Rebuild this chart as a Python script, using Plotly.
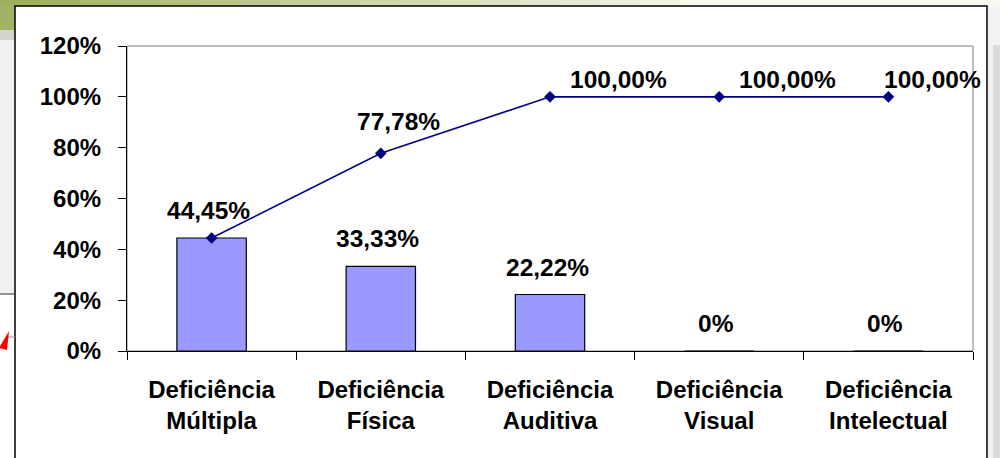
import plotly.graph_objects as go

categories = ["Deficiência<br>Múltipla", "Deficiência<br>Física", "Deficiência<br>Auditiva",
              "Deficiência<br>Visual", "Deficiência<br>Intelectual"]
bar_values = [0.4445, 0.3333, 0.2222, 0.0, 0.0]
cumulative = [0.4445, 0.7778, 1.0, 1.0, 1.0]
bar_labels = ["44,45%", "33,33%", "22,22%", "0%", "0%"]
line_labels = ["", "77,78%", "100,00%", "100,00%", "100,00%"]
y_ticks = [0, 0.2, 0.4, 0.6, 0.8, 1.0, 1.2]
y_tick_text = ["0%", "20%", "40%", "60%", "80%", "100%", "120%"]

FONT = "Liberation Sans, Arial, sans-serif"
LABEL_FONT = dict(family=FONT, size=24.5, color="black", weight="bold")
TICK_FONT = dict(family=FONT, size=24, color="black", weight="bold")

fig = go.Figure()
fig.add_trace(go.Bar(
    x=categories, y=bar_values, width=0.41,
    marker=dict(color="#9999FF", line=dict(color="black", width=1.2)),
    hoverinfo="skip",
))
fig.add_trace(go.Scatter(
    x=categories, y=cumulative, mode="lines+markers",
    line=dict(color="#000080", width=1.6),
    marker=dict(symbol="diamond", size=9, color="#000080"),
    hoverinfo="skip",
))

# data labels
for c, v, t in zip(categories, bar_values, bar_labels):
    fig.add_annotation(x=c, y=v, text=t, showarrow=False, xanchor="center", yanchor="bottom",
                       yshift=12, xshift=-3, font=LABEL_FONT)
line_shift = [(0, 0, "center"), (18, 16, "center"), (18, 2, "left"), (18, 2, "left"), (-6, 2, "left")]
for c, v, t, (xs, ys, xa) in zip(categories, cumulative, line_labels, line_shift):
    if t:
        fig.add_annotation(x=c, y=v, text=t, showarrow=False, xanchor=xa, yanchor="bottom",
                           xshift=xs, yshift=ys, font=LABEL_FONT)

# ---- background decoration (slide behind the chart) ----
def px_x(p):
    return (p - 127) / 846.0

def px_y(p):
    return (351 - p) / 305.0

shapes = []
# top green gradient band
n = 25
for i in range(n):
    f = i / (n - 1)
    r = int(158 + (248 - 158) * min(1, f * 1.4))
    g = int(176 + (248 - 176) * min(1, f * 1.4))
    b = int(92 + (240 - 92) * min(1, f * 1.4))
    shapes.append(dict(type="rect", xref="paper", yref="paper", layer="below",
                       x0=px_x(i * 1000 / n), x1=px_x((i + 1) * 1000 / n + 1),
                       y0=px_y(7), y1=px_y(-2), line=dict(width=0), fillcolor=f"rgb({r},{g},{b})"))
# left strip
shapes.append(dict(type="rect", xref="paper", yref="paper", layer="below",
                   x0=px_x(-2), x1=px_x(15), y0=px_y(30), y1=px_y(6), line=dict(width=0),
                   fillcolor="#a2b266"))
shapes.append(dict(type="rect", xref="paper", yref="paper", layer="below",
                   x0=px_x(-2), x1=px_x(15), y0=px_y(40), y1=px_y(30), line=dict(width=0),
                   fillcolor="#d2d4d0"))
shapes.append(dict(type="rect", xref="paper", yref="paper", layer="below",
                   x0=px_x(-2), x1=px_x(15), y0=px_y(294), y1=px_y(40), line=dict(width=0),
                   fillcolor="#f0f0ef"))
shapes.append(dict(type="line", xref="paper", yref="paper", x0=px_x(-2), x1=px_x(15),
                   y0=px_y(294), y1=px_y(294), line=dict(color="#333333", width=1)))
shapes.append(dict(type="line", xref="paper", yref="paper", x0=px_x(6), x1=px_x(15),
                   y0=px_y(337), y1=px_y(337), line=dict(color="#999999", width=1)))
shapes.append(dict(type="path", xref="paper", yref="paper", layer="above",
                   path=f"M {px_x(-1)},{px_y(348)} L {px_x(9)},{px_y(331)} L {px_x(7)},{px_y(350)} Z",
                   line=dict(width=0), fillcolor="#ff0000"))
# right strip
shapes.append(dict(type="rect", xref="paper", yref="paper", layer="below",
                   x0=px_x(988), x1=px_x(1002), y0=px_y(460), y1=px_y(7), line=dict(width=0),
                   fillcolor="#f2f2f2"))
shapes.append(dict(type="rect", xref="paper", yref="paper", layer="below",
                   x0=px_x(993), x1=px_x(1002), y0=px_y(460), y1=px_y(45), line=dict(width=0),
                   fillcolor="#dcdcdc"))
# outer chart frame
shapes.append(dict(type="rect", xref="paper", yref="paper", layer="below",
                   x0=px_x(15), x1=px_x(987), y0=px_y(470), y1=px_y(6),
                   line=dict(color="black", width=1.5), fillcolor="white"))
# plot area border
shapes.append(dict(type="rect", xref="paper", yref="paper", layer="below",
                   x0=0, x1=1, y0=0, y1=1, line=dict(color="#808080", width=1)))

fig.update_layout(
    width=1000, height=458,
    margin=dict(l=127, r=27, t=46, b=107),
    paper_bgcolor="white", plot_bgcolor="white",
    showlegend=False,
    shapes=shapes,
    font=TICK_FONT,
    xaxis=dict(
        type="category", range=[-0.5, len(categories) - 0.5], autorange=False,
        showgrid=False, showline=True, linecolor="black", linewidth=1.2,
        ticks="outside", ticklen=8, tickcolor="black", tickson="boundaries",
        tickfont=TICK_FONT,
        ticklabelstandoff=17,
    ),
    yaxis=dict(
        range=[0, 1.2], autorange=False, tickvals=y_ticks, ticktext=y_tick_text,
        showgrid=False, showline=True, linecolor="black", linewidth=1.2,
        ticks="outside", ticklen=8, tickcolor="black", zeroline=False,
        tickfont=TICK_FONT,
        ticklabelstandoff=12,
    ),
)

fig.write_html("out.html", config={"displayModeBar": False},
               post_script="document.body.style.margin='0';document.body.style.overflow='hidden';")
